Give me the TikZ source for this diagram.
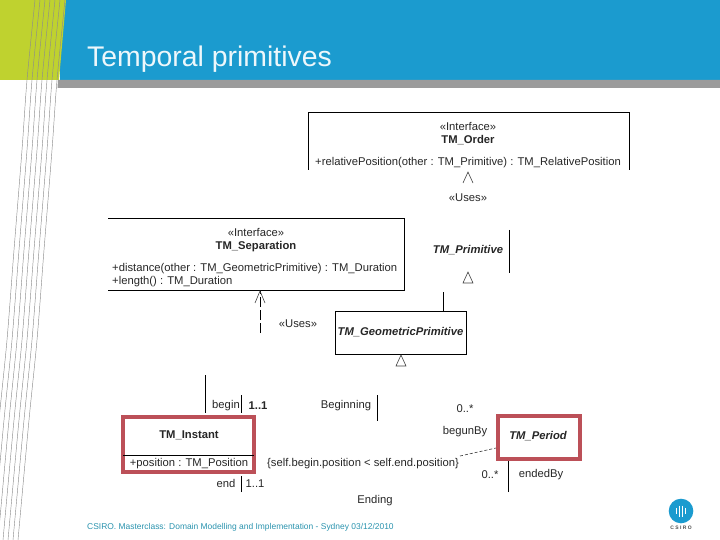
\documentclass[tikz,border=0pt]{standalone}
\usepackage{fontspec}
\setmainfont{Liberation Sans}
\definecolor{hblue}{HTML}{1B9BCF}
\definecolor{hgreen}{HTML}{BFD22F}
\definecolor{hgray}{HTML}{9B9B9B}
\definecolor{frame}{HTML}{BC5058}
\definecolor{foot}{HTML}{2A93AE}
\tikzset{
 lbl/.style={inner sep=0pt,text=black!85,font=\fontsize{11.25}{13}\selectfont},
 blbl/.style={lbl,font=\fontsize{11.25}{13}\selectfont\bfseries},
 ilbl/.style={lbl,font=\fontsize{11.25}{13}\selectfont\bfseries\itshape},
 umlline/.style={draw=black,line width=0.9pt},
 tri/.style={draw=black!75,line width=0.6pt},
 redframe/.style={draw=frame,line width=4.4pt,inner sep=0pt},
 stripe/.style={draw=black!45,line width=0.45pt}
}
\begin{document}
\begin{tikzpicture}[x=1pt,y=-1pt]
\useasboundingbox (0,0) rectangle (720,540);
% header
\fill[hblue] (60,0) rectangle (720,80);
\fill[hgray] (58,80) -- (720,80) -- (720,88) -- (57.5,88) -- cycle;
\fill[hgreen] (0,0) -- (66,0) -- (59,80) -- (0,80) -- cycle;
\begin{scope}
\clip (0,0) rectangle (720,540);
\foreach \k in {0,5,10,15,20,25,30}{
 \draw[stripe,shift={(-\k,0)}] plot[smooth] coordinates {(65,0) (57,80) (52,150) (44,250) (37,340) (29,420) (18,540)};
}
\end{scope}
\node[inner sep=0pt,anchor=west,text=white!92!hblue,font=\fontsize{28.4}{32}\selectfont] (title) at (87,59.5) {Temporal primitives};

% TM_Order
\draw[umlline] (308,170) -- (308,112.5) -- (629,112.5) -- (629,170);
\node[lbl] (ordS) at (468,126.5) {«Interface»};
\node[blbl] (ordN) at (468,140.5) {TM\_Order};
\node[lbl] (ordM) at (468,162.5) {+relativePosition(other : TM\_Primitive) : TM\_RelativePosition};
\draw[tri] (463,183) -- (468,172) -- (473,183);
\node[lbl] (usesA) at (468,197.5) {«Uses»};

% TM_Separation
\draw[umlline] (108,218.5) -- (404,218.5) -- (404,290.5) -- (108,290.5);
\node[lbl] (sepS) at (256,232.5) {«Interface»};
\node[blbl] (sepN) at (256,246.5) {TM\_Separation};
\node[lbl,anchor=west] (sepM1) at (112,268.5) {+distance(other : TM\_GeometricPrimitive) : TM\_Duration};
\node[lbl,anchor=west] (sepM2) at (112,282) {+length() : TM\_Duration};
\coordinate (sepB) at (260,291);
\coordinate (sepE) at (260,333);
\draw[umlline,dash pattern=on 10pt off 3pt] (sepE) -- (sepB);
\draw[tri] (255,303) -- (sepB) -- (265,303);
\node[lbl] (usesB) at (298,323.5) {«Uses»};

% TM_Primitive
\node[ilbl] (prim) at (468,250.5) {TM\_Primitive};
\coordinate (primA) at (509,230);
\coordinate (primB) at (509,273);
\draw[umlline] (primA) -- (primB);
\draw[tri] (463,283) -- (468,272) -- (473,283) -- cycle;

% TM_GeometricPrimitive
\node[draw=black,line width=0.9pt,minimum width=131pt,minimum height=43pt,inner sep=0pt,ilbl] (geo) at (400.5,332.5) {TM\_GeometricPrimitive};
\coordinate (geoT) at (443,292);
\draw[umlline] (geoT) -- (geoT |- geo.north);
\draw[tri] (396,366) -- (401,355) -- (406,366) -- cycle;

% TM_Instant
\node[redframe,minimum width=130.6pt,minimum height=54.6pt] (inst) at (188.5,444.5) {};
\node[blbl] (instN) at (189,435) {TM\_Instant};
\draw[black,line width=0.8pt] (123,455.5) -- (254,455.5);
\node[lbl] (instM) at (189,463.5) {+position : TM\_Position};
\coordinate (i1) at (205,375);
\draw[umlline] (i1) -- (205,413);
\coordinate (i2) at (241,395);
\draw[umlline] (i2) -- (241,413);
\node[lbl] (begin) at (226,405.5) {begin};
\node[blbl] (m1) at (258,405.5) {1..1};
\node[lbl] (beginning) at (346,405.5) {Beginning};
\coordinate (i3) at (377,395);
\draw[umlline] (i3) -- (377,421);
\coordinate (i4) at (241,492);
\draw[umlline] (i4) -- (241,476);
\node[lbl] (end) at (226,483.5) {end};
\node[lbl] (m2) at (255,483.5) {1..1};
\node[lbl] (ending) at (375,500.5) {Ending};
\node[lbl,anchor=west] (cons) at (267,464) {\{self.begin.position < self.end.position\}};

% TM_Period
\node[redframe,minimum width=81.6pt,minimum height=42.6pt] (per) at (539,437.5) {};
\node[ilbl] (perN) at (538,436) {TM\_Period};
\node[lbl] (zA) at (465,408.5) {0..*};
\node[lbl] (begunBy) at (465,431.5) {begunBy};
\coordinate (d1) at (460,456);
\draw[black!80,line width=0.6pt,dash pattern=on 3pt off 2pt] (d1) -- (per.west |- 0,448);
\node[lbl] (zB) at (490,474.5) {0..*};
\node[lbl] (endedBy) at (541,474.5) {endedBy};
\coordinate (p1) at (508,492);
\draw[umlline] (p1) -- (p1 |- per.south);

% footer
\node[inner sep=0pt,anchor=west,text=foot,font=\fontsize{8.45}{10}\selectfont] (footer) at (87,527) {CSIRO.  Masterclass: Domain Modelling and Implementation - Sydney 03/12/2010};
\fill[hblue] (681,511) circle (12.3);
\foreach \dx/\h in {-4.5/2.8,-1.8/5.5,1.8/5.5,4.5/2.8}{
 \draw[white,line width=1.1pt] (681+\dx,511-\h) -- (681+\dx,511+\h);
}
\node[inner sep=0pt,text=black!70,font=\fontsize{5}{6}\selectfont\bfseries] (logo) at (681,527.5) {C S I R O};
\end{tikzpicture}
\end{document}
